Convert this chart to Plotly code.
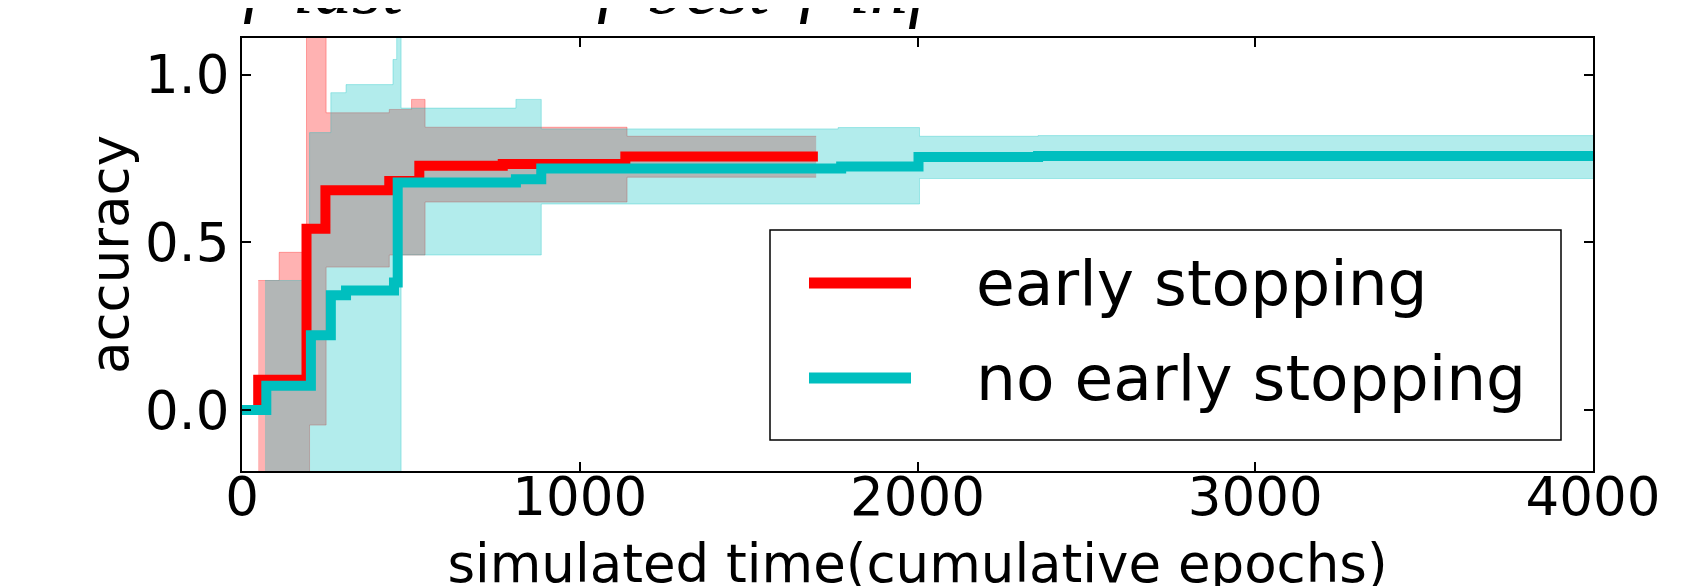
import plotly.graph_objects as go

# ---------------- data ----------------
# early stopping: median line
red_line_x = [0, 48, 191, 247, 436, 525, 772, 1135, 1705]
red_line_y = [0.0, 0.09, 0.54, 0.655, 0.683, 0.728, 0.733, 0.756, 0.756]
# early stopping: spread band
red_band_x = [48, 110, 191, 200, 249, 436, 502, 542, 1140, 1700]
red_lo = [-0.5, -0.5, -0.5, -0.045, 0.426, 0.462, 0.462, 0.62, 0.694, 0.694]
red_hi = [0.386, 0.47, 1.5, 1.5, 0.886, 0.896, 0.926, 0.843, 0.816, 0.816]

# no early stopping: median line
cyan_line_x = [0, 72, 204, 263, 308, 450, 461, 811, 886, 1774, 2003, 2357, 4000]
cyan_line_y = [0.0, 0.072, 0.223, 0.342, 0.356, 0.38, 0.678, 0.688, 0.72, 0.726, 0.754, 0.757, 0.757]
# no early stopping: spread band
cyan_band_x = [68, 200, 263, 308, 447, 458, 471, 811, 886, 1765, 2006, 2357, 4000]
cyan_lo = [-0.5, -0.5, -0.5, -0.5, -0.5, -0.5, 0.462, 0.462, 0.614, 0.614, 0.69, 0.69, 0.69]
cyan_hi = [0.386, 0.827, 0.946, 0.97, 1.045, 1.5, 0.90, 0.926, 0.838, 0.842, 0.816, 0.818, 0.818]

x_ticks = [0, 1000, 2000, 3000, 4000]
y_ticks = [0.0, 0.5, 1.0]
y_tick_labels = ["0.0", "0.5", "1.0"]
series_names = ["early stopping", "no early stopping"]

RED = "#ff0000"
CYAN = "#00bfbf"
RED_FILL = "rgba(255,0,0,0.3)"
CYAN_FILL = "rgba(0,191,191,0.3)"
FONT = "DejaVu Sans"

fig = go.Figure()

# bands
fig.add_trace(go.Scatter(x=red_band_x, y=red_lo, mode="lines", line=dict(shape="hv", width=1, color=RED_FILL),
                         showlegend=False, hoverinfo="skip"))
fig.add_trace(go.Scatter(x=red_band_x, y=red_hi, mode="lines", line=dict(shape="hv", width=1, color=RED_FILL),
                         fill="tonexty", fillcolor=RED_FILL, showlegend=False, hoverinfo="skip"))
fig.add_trace(go.Scatter(x=cyan_band_x, y=cyan_lo, mode="lines", line=dict(shape="hv", width=1, color=CYAN_FILL),
                         showlegend=False, hoverinfo="skip"))
fig.add_trace(go.Scatter(x=cyan_band_x, y=cyan_hi, mode="lines", line=dict(shape="hv", width=1, color=CYAN_FILL),
                         fill="tonexty", fillcolor=CYAN_FILL, showlegend=False, hoverinfo="skip"))

# median lines
fig.add_trace(go.Scatter(x=red_line_x, y=red_line_y, mode="lines", name=series_names[0],
                         line=dict(shape="hv", width=10, color=RED), showlegend=False))
fig.add_trace(go.Scatter(x=cyan_line_x, y=cyan_line_y, mode="lines", name=series_names[1],
                         line=dict(shape="hv", width=10, color=CYAN), showlegend=False))

L, R, T, B = 234, 97, 30, 123
W, H = 1682, 586
PW, PH = W - L - R, H - T - B


def px(xp):
    return (xp - L) / PW


def py(yp):
    return (T + PH - yp) / PH


axis_common = dict(
    showline=True, linecolor="black", linewidth=2, mirror="ticks",
    ticks="inside", ticklen=9, tickwidth=1.5, tickcolor="black",
    showgrid=False, zeroline=False,
    tickfont=dict(family=FONT, size=53, color="black"),
)

fig.update_xaxes(range=[0, 4000], tickvals=x_ticks, ticktext=[str(v) for v in x_ticks],
                 ticklabelstandoff=-22,
                 title=dict(text="simulated time(cumulative epochs)", font=dict(family=FONT, size=53, color="black"),
                            standoff=22),
                 automargin=False, **axis_common)
fig.update_yaxes(range=[-0.182, 1.109], tickvals=y_ticks, ticktext=y_tick_labels,
                 title=dict(text="accuracy", font=dict(family=FONT, size=53, color="black"), standoff=0),
                 automargin=False, **axis_common)

# custom legend (box, handles, labels)
shapes = [
    dict(type="rect", xref="paper", yref="paper", x0=px(762), x1=px(1553), y0=py(432), y1=py(222),
         line=dict(color="black", width=1.5), fillcolor="white", layer="above"),
    dict(type="line", xref="paper", yref="paper", x0=px(801), x1=px(903), y0=py(275), y1=py(275),
         line=dict(color=RED, width=11), layer="above"),
    dict(type="line", xref="paper", yref="paper", x0=px(801), x1=px(903), y0=py(370), y1=py(370),
         line=dict(color=CYAN, width=11), layer="above"),
]
annotations = [
    dict(text=series_names[0], xref="paper", yref="paper", x=px(966), y=py(275), xanchor="left", yanchor="middle",
         showarrow=False, font=dict(family=FONT, size=63, color="black")),
    dict(text=series_names[1], xref="paper", yref="paper", x=px(966), y=py(370), xanchor="left", yanchor="middle",
         showarrow=False, font=dict(family=FONT, size=63, color="black")),
]

# cropped text fragments at the top and bottom edges of the image
for xx, t in [(226, "ƒ last"), (580, "ƒ best"), (782, "ƒ inf")]:
    annotations.append(dict(text=f"<i>{t}</i>", xref="paper", yref="paper", x=px(xx), y=py(23),
                            xanchor="left", yanchor="bottom", showarrow=False,
                            font=dict(family="Liberation Serif", size=76, color="black")))
for xx, t in [(20, "l"), (152, "l"), (233, "l")]:
    annotations.append(dict(text=f"<b>{t}</b>", xref="paper", yref="paper", x=px(xx), y=py(574),
                            xanchor="left", yanchor="top", showarrow=False,
                            font=dict(family=FONT, size=60, color="black")))

fig.update_layout(
    width=W, height=H,
    margin=dict(l=L, r=R, t=T, b=B),
    paper_bgcolor="white", plot_bgcolor="white",
    font=dict(family=FONT, color="black"),
    showlegend=False,
    shapes=shapes, annotations=annotations,
)

fig.write_html("out.html")
